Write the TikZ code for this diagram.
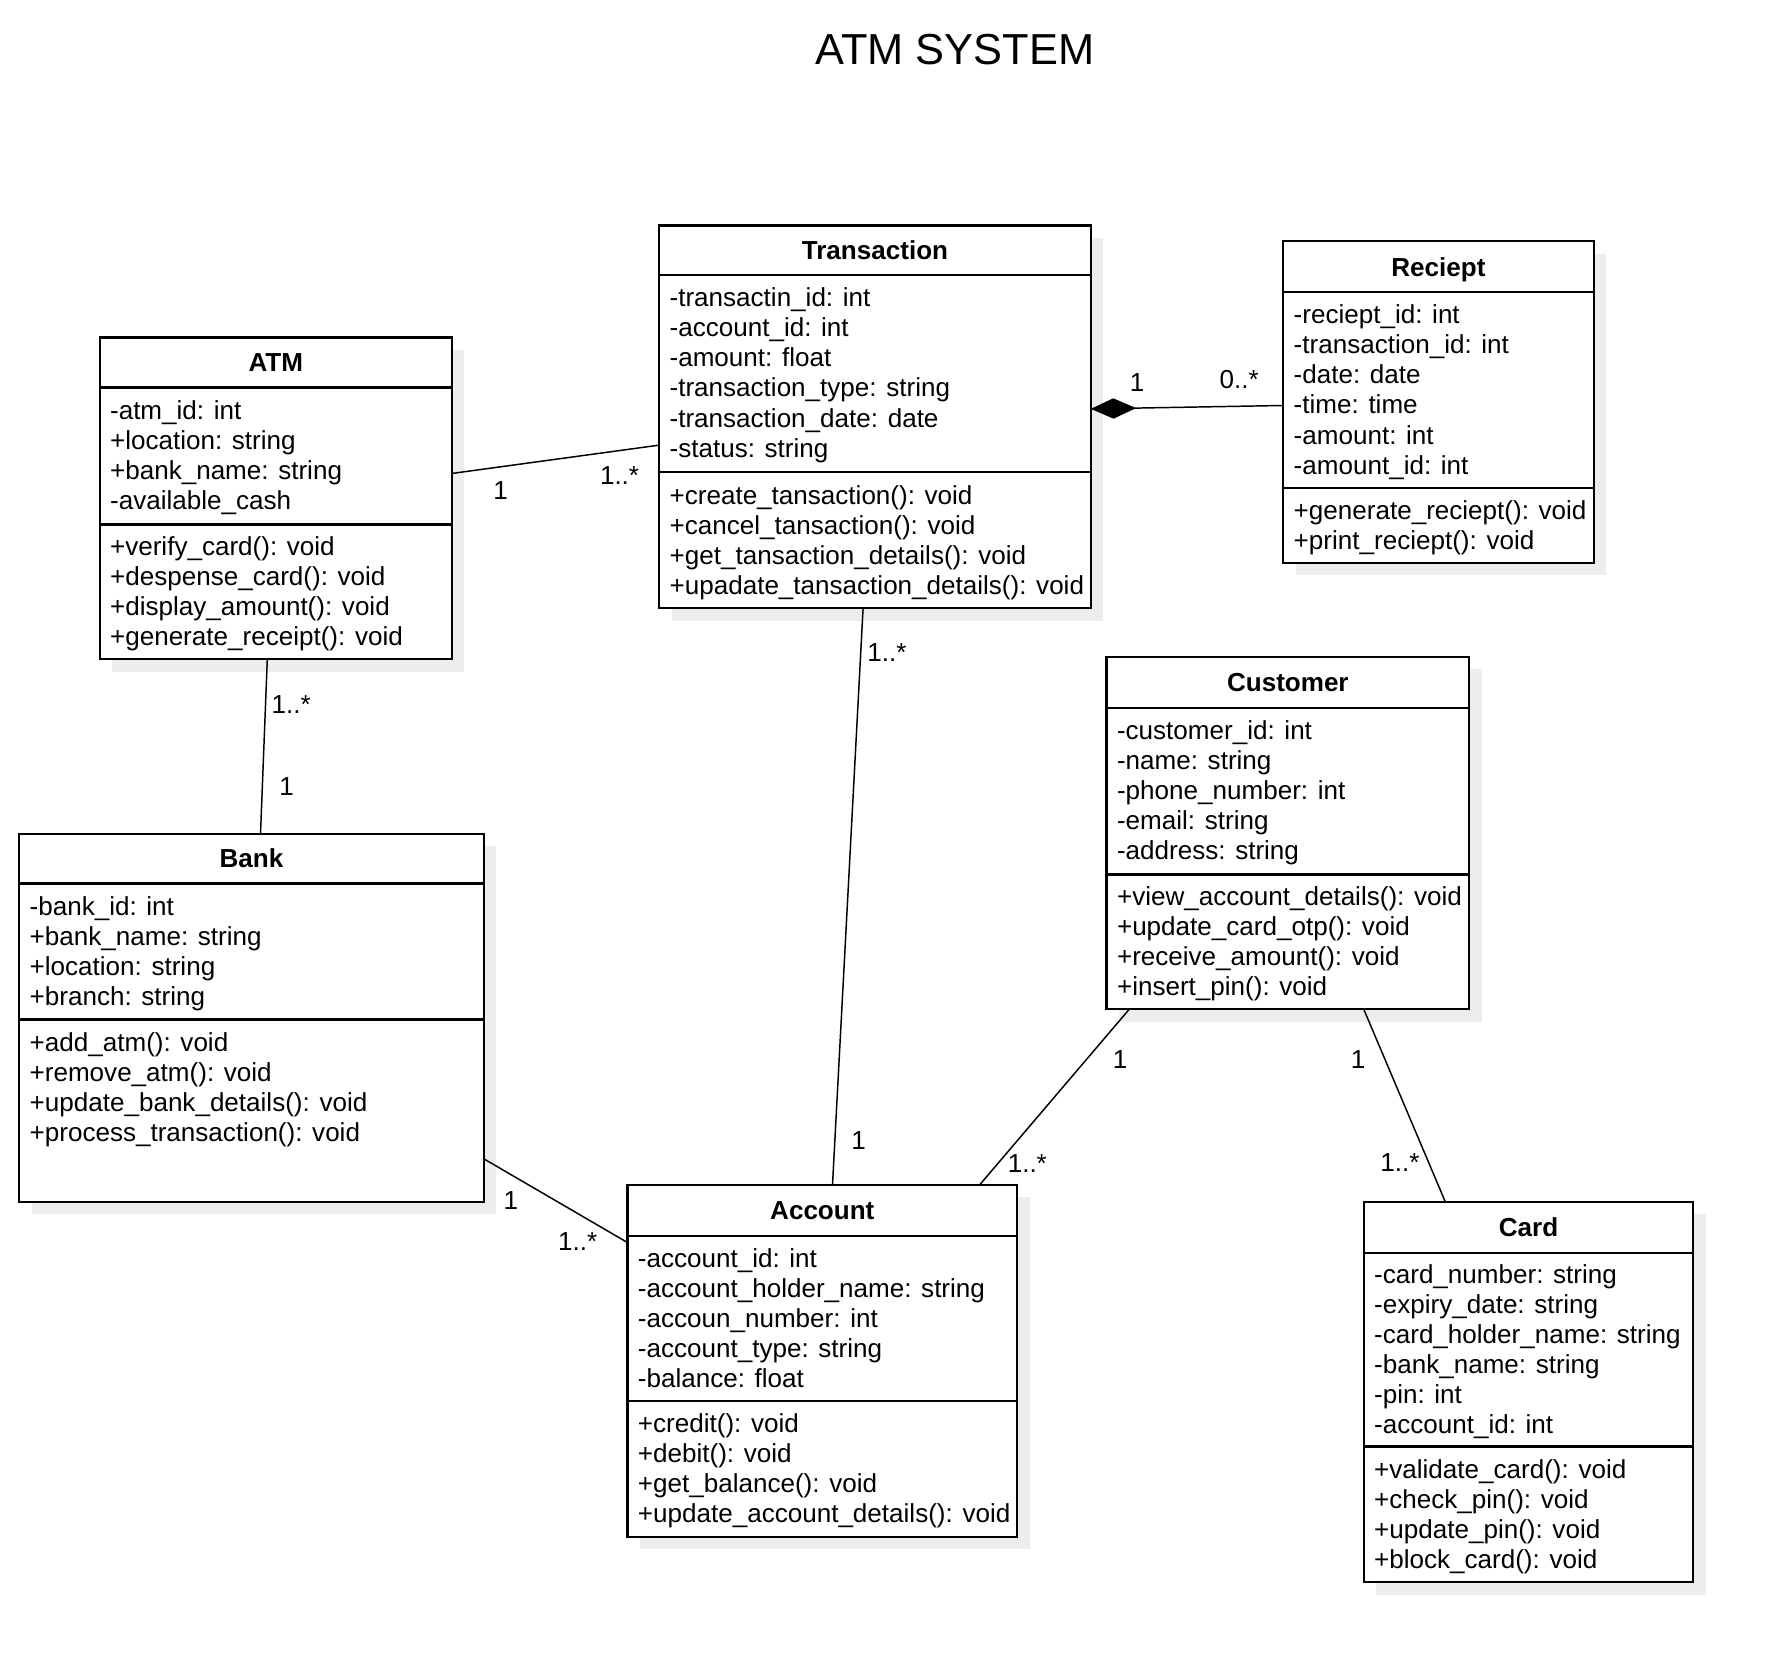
\documentclass[tikz,border=0pt]{standalone}
\usepackage{fontspec}
\setmainfont{Liberation Sans}
\usetikzlibrary{arrows.meta}

\tikzset{
  classbox/.style={draw=black, line width=2pt, fill=white, inner sep=0pt, outer sep=0pt, anchor=north west},
  shadowbox/.style={fill=black!7, draw=none},
  divline/.style={line width=2pt},
  memb/.style={anchor=base west, inner sep=0pt, font=\fontsize{23}{26.5}\selectfont},
  ctitle/.style={anchor=base, inner sep=0pt, font=\fontsize{23}{26.5}\selectfont\bfseries},
  assoc/.style={line width=1.3pt},
  mult/.style={inner sep=0pt, anchor=center, font=\fontsize{23}{26.5}\selectfont},
  bigtitle/.style={inner sep=0pt, anchor=base, font=\fontsize{38.3}{44}\selectfont},
}

% name, left, top, right, bottom, header line y, divider y, title
\newcommand\umlclass[8]{%
  \fill[shadowbox] (#2+11,#3+11) rectangle (#4+11,#5+11);
  \node[classbox, minimum width=#4-#2, minimum height=#5-#3] (#1) at (#2,#3) {};
  \draw[divline] (#1.west |- 0,#6) -- (#1.east |- 0,#6);
  \draw[divline] (#1.west |- 0,#7) -- (#1.east |- 0,#7);
  \node[ctitle] (#1-title) at ({(#2+#4)/2},{(#3+#6)/2+8.2}) {#8};
}
% name prefix, x, first baseline, list of lines
\newcommand\umllines[4]{%
  \foreach \mtext [count=\i from 0] in {#4} {
    \node[memb] (#1-\i) at (#2,{#3+2+26.5*\i}) {\mtext};
  }
}

\begin{document}
\begin{tikzpicture}[x=1pt, y=-1pt]
\useasboundingbox (0,0) rectangle (1568,1469);
\fill[white] (0,0) rectangle (1568,1469);

\node[bigtitle] (title) at (843,57) {ATM SYSTEM};

% Transaction
\umlclass{trans}{582}{199}{963}{537}{243}{417}{Transaction}
\umllines{trans-a}{591}{269}{-transactin\_id: int,-account\_id: int,-amount: float,-transaction\_type: string,-transaction\_date: date,-status: string}
\umllines{trans-m}{591}{443}{+create\_tansaction(): void,+cancel\_tansaction(): void,+get\_tansaction\_details(): void,+upadate\_tansaction\_details(): void}

% Reciept
\umlclass{reciept}{1133}{213}{1407}{497}{258}{431}{Reciept}
\umllines{reciept-a}{1142}{284}{-reciept\_id: int,-transaction\_id: int,-date: date,-time: time,-amount: int,-amount\_id: int}
\umllines{reciept-m}{1142}{457}{+generate\_reciept(): void,+print\_reciept(): void}

% ATM
\umlclass{atm}{88}{298}{399}{582}{342}{463}{ATM}
\umllines{atm-a}{97}{368}{-atm\_id: int,+location: string,+bank\_name: string,-available\_cash}
\umllines{atm-m}{97}{488}{+verify\_card(): void,+despense\_card(): void,+display\_amount(): void,+generate\_receipt(): void}

% Bank
\umlclass{bank}{17}{736}{427}{1061}{780}{900}{Bank}
\umllines{bank-a}{26}{806}{-bank\_id: int,+bank\_name: string,+location: string,+branch: string}
\umllines{bank-m}{26}{926}{+add\_atm(): void,+remove\_atm(): void,+update\_bank\_details(): void,+process\_transaction(): void}

% Customer
\umlclass{cust}{977}{580}{1297}{891}{625}{772}{Customer}
\umllines{cust-a}{986}{651}{-customer\_id: int,-name: string,-phone\_number: int,-email: string,-address: string}
\umllines{cust-m}{986}{797}{+view\_account\_details(): void,+update\_card\_otp(): void,+receive\_amount(): void,+insert\_pin(): void}

% Account
\umlclass{acct}{554}{1046}{898}{1357}{1091}{1237}{Account}
\umllines{acct-a}{563}{1117}{-account\_id: int,-account\_holder\_name: string,-accoun\_number: int,-account\_type: string,-balance: float}
\umllines{acct-m}{563}{1263}{+credit(): void,+debit(): void,+get\_balance(): void,+update\_account\_details(): void}

% Card
\umlclass{card}{1204}{1061}{1495}{1397}{1106}{1277}{Card}
\umllines{card-a}{1213}{1131}{-card\_number: string,-expiry\_date: string,-card\_holder\_name: string,-bank\_name: string,-pin: int,-account\_id: int}
\umllines{card-m}{1213}{1303}{+validate\_card(): void,+check\_pin(): void,+update\_pin(): void,+block\_card(): void}

% Connectors
\draw[assoc] (atm.east |- 0,418) -- (trans.west |- 0,393);
\draw[assoc, -{Diamond[length=40pt,width=18pt]}] (reciept.west |- 0,358) -- (trans.east |- 0,361);
\draw[assoc] (atm.south -| 236,0) -- (bank.north -| 230,0);
\draw[assoc] (trans.south -| 762,0) -- (acct.north -| 735,0);
\draw[assoc] (bank.east |- 0,1023) -- (acct.west |- 0,1097);
\draw[assoc] (cust.south -| 997,0) -- (acct.north -| 865,0);
\draw[assoc] (cust.south -| 1204,0) -- (card.north -| 1276,0);

% Multiplicities
\node[mult] (m1) at (442,433) {1};
\node[mult] (m2) at (547,420) {1..*};
\node[mult] (m3) at (1004,338) {1};
\node[mult] (m4) at (1094,335) {0..*};
\node[mult] (m5) at (257,622) {1..*};
\node[mult] (m6) at (253,694) {1};
\node[mult] (m7) at (783,576) {1..*};
\node[mult] (m8) at (758,1007) {1};
\node[mult] (m9) at (451,1060) {1};
\node[mult] (m10) at (510,1096) {1..*};
\node[mult] (m11) at (989,935) {1};
\node[mult] (m12) at (907,1027) {1..*};
\node[mult] (m13) at (1199,935) {1};
\node[mult] (m14) at (1236,1026) {1..*};
\end{tikzpicture}
\end{document}
